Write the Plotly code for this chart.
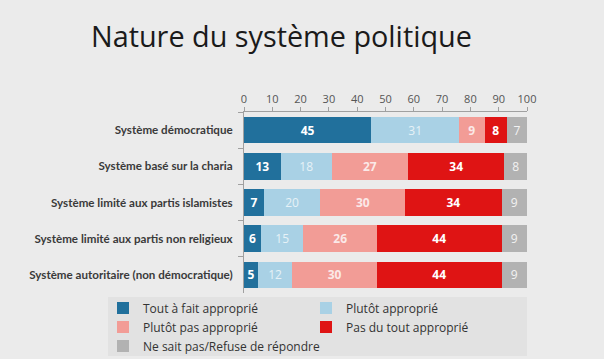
import plotly.graph_objects as go

categories = [
    "Système démocratique",
    "Système basé sur la charia",
    "Système limité aux partis islamistes",
    "Système limité aux partis non religieux",
    "Système autoritaire (non démocratique)",
]
series_names = [
    "Tout à fait approprié",
    "Plutôt approprié",
    "Plutôt pas approprié",
    "Pas du tout approprié",
    "Ne sait pas/Refuse de répondre",
]
tout_a_fait = [45, 13, 7, 6, 5]
plutot = [31, 18, 20, 15, 12]
plutot_pas = [9, 27, 30, 26, 30]
pas_du_tout = [8, 34, 34, 44, 44]
nsp = [7, 8, 9, 9, 9]
x_ticks = [0, 10, 20, 30, 40, 50, 60, 70, 80, 90, 100]

series_values = [tout_a_fait, plutot, plutot_pas, pas_du_tout, nsp]
colors = ["#21709c", "#a9d1e5", "#f29c96", "#df1414", "#b2b2b2"]
text_colors = ["#ffffff", "#e6f1f7", "#fbe9e8", "#ffffff", "#f2f2f2"]
weights = ["bold", "normal", "bold", "bold", "normal"]

W, H = 604, 359
L, R, T, B = 244, 77, 112, 66
paper_h = H - T - B
plot_w = W - L - R


def py(px):
    return (H - B - px) / paper_h


def pxx(px):
    return (px - L) / plot_w


fig = go.Figure()
for name, vals, col, tcol, w in zip(series_names, series_values, colors, text_colors, weights):
    fig.add_trace(go.Bar(
        y=categories, x=vals, name=name, orientation="h",
        marker=dict(color=col, line=dict(width=0)),
        text=vals, textposition="inside", insidetextanchor="middle",
        textfont=dict(color=tcol, size=12, family="Open Sans", weight=w),
        textangle=0, constraintext="none",
    ))

bg = "#ebebeb"
fig.update_layout(
    barmode="stack",
    bargap=0.27,
    width=W, height=H,
    margin=dict(l=L, r=R, t=T, b=B, autoexpand=False),
    paper_bgcolor=bg, plot_bgcolor=bg,
    title=dict(text="Nature du système politique", x=91 / W, xanchor="left",
               y=1 - 37 / H, yanchor="middle",
               font=dict(family="Open Sans", size=28.8, color="#1a1a1a")),
    showlegend=True,
    legend=dict(orientation="h", x=pxx(103), xanchor="left", y=py(293.5), yanchor="top",
                entrywidth=158, entrywidthmode="pixels", itemwidth=30,
                bgcolor="rgba(0,0,0,0)", traceorder="normal",
                font=dict(family="Open Sans", size=12, color="#333333"),
                itemclick=False),
    shapes=[dict(type="rect", xref="paper", yref="paper",
                 x0=pxx(108), x1=1.0, y0=py(356), y1=py(297),
                 fillcolor="#e2e2e2", line=dict(width=0), layer="below")],
)
fig.update_xaxes(
    side="top", range=[0, 100], tickvals=x_ticks, showgrid=False, zeroline=False,
    showline=True, linecolor="#a0a0a0", linewidth=1,
    ticks="outside", ticklen=4, tickcolor="#a0a0a0",
    tickfont=dict(family="Open Sans", size=11, color="#555555"),
)
fig.update_yaxes(
    autorange="reversed", showgrid=False, zeroline=False,
    showline=True, linecolor="#a0a0a0", linewidth=1,
    ticks="outside", ticklen=5, tickcolor="#a0a0a0", tickson="boundaries",
    tickfont=dict(family="Lato", size=11.6, color="#3a3a3a", weight="bold"),
    ticklabelstandoff=8,
)
fig.write_html("out.html", config={"displayModeBar": False},
               post_script="document.body.style.margin='0';")
